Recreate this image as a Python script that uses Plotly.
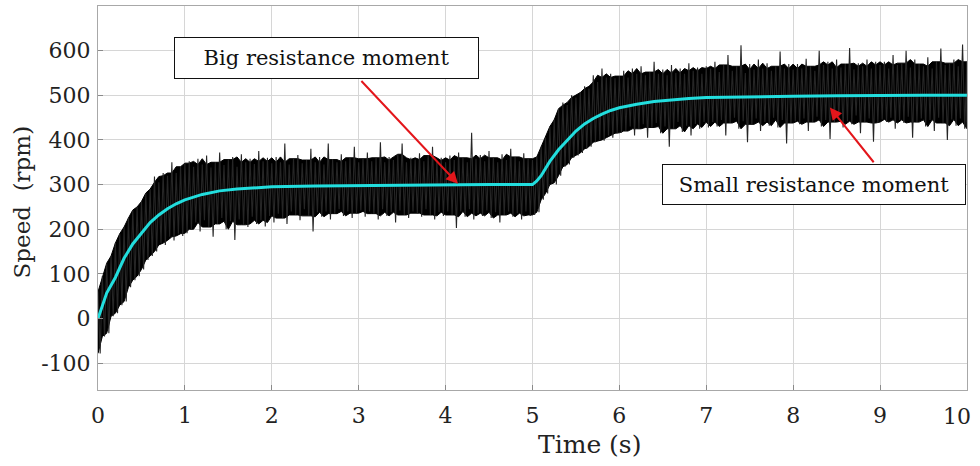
import numpy as np
import plotly.graph_objects as go

# ---------------- data ----------------
# noisy measured speed: upper / lower envelope every 0.05 s (0 .. 10 s)
noise_t = [round(i * 0.05, 2) for i in range(201)]

noise_hi = [
    # 0.00 - 1.00
    60, 95, 124, 140, 169, 190, 205, 225, 243, 250, 262, 281, 290, 318, 305, 326, 320, 350, 326, 340, 348,
    # 1.05 - 2.00
    352, 340, 358, 345, 365, 338, 350, 372, 344, 356, 362, 340, 368, 350, 358, 346, 375, 352, 360, 348,
    # 2.05 - 3.00
    362, 350, 392, 345, 358, 366, 348, 355, 380, 350, 362, 345, 392, 356, 350, 368, 352, 360, 385, 350,
    # 3.05 - 4.00
    358, 372, 352, 360, 395, 350, 362, 355, 368, 392, 350, 360, 356, 370, 352, 365, 385, 354, 360, 350,
    # 4.05 - 5.00
    365, 355, 372, 360, 350, 416, 358, 366, 352, 375, 360, 350, 368, 355, 380, 362, 352, 370, 358, 355,
    # 5.05 - 6.00
    362, 385, 405, 430, 445, 470, 484, 478, 500, 495, 506, 520, 515, 545, 530, 560, 540, 548, 538, 543,
    # 6.05 - 7.00
    555, 540, 560, 548, 565, 545, 552, 575, 548, 558, 545, 568, 550, 560, 548, 572, 555, 562, 548, 565,
    # 7.05 - 8.00
    560, 575, 552, 568, 590, 555, 565, 612, 550, 570, 558, 580, 560, 572, 555, 565, 598, 560, 570, 558,
    # 8.05 - 9.00
    570, 560, 582, 565, 555, 600, 568, 575, 560, 580, 562, 570, 606, 558, 572, 565, 580, 560, 575, 568,
    # 9.05 - 10.00
    575, 560, 590, 568, 572, 600, 562, 580, 570, 565, 585, 560, 575, 605, 568, 572, 580, 565, 614, 575,
]

noise_lo = [
    # 0.00 - 1.00
    -78, -40, -33, 5, 12, 30, 38, 70, 86, 95, 110, 131, 140, 150, 169, 165, 183, 175, 190, 185, 191,
    # 1.05 - 2.00
    200, 215, 195, 220, 205, 183, 212, 225, 200, 218, 176, 222, 210, 205, 228, 212, 220, 206, 230, 215,
    # 2.05 - 3.00
    235, 225, 212, 240, 232, 220, 245, 230, 195, 238, 228, 240, 222, 235, 245, 230, 240, 225, 236, 242,
    # 3.05 - 4.00
    228, 240, 235, 222, 245, 230, 238, 215, 242, 232, 225, 240, 236, 228, 245, 232, 222, 238, 230, 240,
    # 4.05 - 5.00
    232, 203, 240, 228, 245, 222, 236, 230, 242, 225, 238, 215, 232, 240, 228, 236, 222, 240, 230, 232,
    # 5.05 - 6.00
    238, 266, 280, 304, 300, 320, 340, 345, 360, 365, 371, 380, 385, 395, 400, 398, 410, 405, 415, 416,
    # 6.05 - 7.00
    420, 430, 410, 425, 435, 405, 428, 438, 415, 430, 385, 425, 440, 418, 432, 410, 436, 425, 440, 428,
    # 7.05 - 8.00
    440, 430, 445, 410, 438, 450, 425, 442, 395, 435, 448, 420, 440, 432, 450, 428, 445, 392, 438, 442,
    # 8.05 - 9.00
    435, 448, 420, 440, 452, 430, 445, 402, 440, 450, 428, 442, 435, 455, 415, 440, 448, 396, 438, 446,
    # 9.05 - 10.00
    440, 450, 425, 445, 438, 452, 405, 440, 448, 430, 445, 420, 450, 438, 400, 446, 432, 448, 425, 440,
]

# filtered (mean) speed, cyan curve
mean_t = [0, 0.1, 0.2, 0.3, 0.4, 0.5, 0.6, 0.7, 0.8, 0.9, 1.0, 1.2, 1.4, 1.6, 1.8, 2.0, 2.5, 3.0,
          3.5, 4.0, 4.5, 5.0, 5.05, 5.1, 5.2, 5.3, 5.4, 5.5, 5.6, 5.7, 5.8, 5.9, 6.0, 6.2, 6.4,
          6.6, 6.8, 7.0, 7.5, 8.0, 8.5, 9.0, 9.5, 10.0]
mean_v = [0, 57, 92, 135, 167, 192, 215, 232, 246, 257, 266, 278, 286, 290, 293, 295, 297, 298,
          299, 300, 300, 300, 308, 320, 352, 378, 400, 420, 436, 448, 458, 466, 472, 480, 486,
          490, 493, 495, 497, 498, 499, 500, 500, 500]

x_ticks = [0, 1, 2, 3, 4, 5, 6, 7, 8, 9, 10]
x_ticklabels = ["0", "1", "2", "3", "4", "5", "6", "7", "8", "9", "10"]
y_ticks = [-100, 0, 100, 200, 300, 400, 500, 600]
y_ticklabels = ["-100", "0", "100", "200", "300", "400", "500", "600"]

label_big = "Big resistance moment"
label_small = "Small resistance moment"

# ---------------- derived drawing geometry ----------------
n = len(noise_t)


def _median3(vals, i):
    win = sorted(vals[max(0, i - 1):i + 2])
    return win[(len(win) - 1) // 2]


# dense core: neighbourhood median of the envelope (the tallest spikes poke out of it)
core_hi = [_median3(noise_hi, i) for i in range(n)]
core_lo = [_median3(noise_lo, i) for i in range(n)]
# zig-zag trace through the read envelope points: gives the thin spikes
half = 0.025
zz_x, zz_y = [], []
for i in range(n):
    zz_x += [noise_t[i], min(noise_t[i] + half, 10.0)]
    zz_y += [noise_hi[i], noise_lo[i]]

# last x tick label is drawn separately (nudged left to stay inside the page, as in the original)
x_ticktext = x_ticklabels[:-1] + [""]

# ---------------- figure ----------------
FONT = "DejaVu Serif"
fig = go.Figure()

fig.add_trace(go.Scatter(x=noise_t, y=core_hi, mode="lines",
                         line=dict(color="#000000", width=1), hoverinfo="skip"))
fig.add_trace(go.Scatter(x=noise_t, y=core_lo, mode="lines", fill="tonexty",
                         fillcolor="#000000",
                         line=dict(color="#000000", width=1), hoverinfo="skip"))
fig.add_trace(go.Scatter(x=zz_x, y=zz_y, mode="lines",
                         line=dict(color="#262626", width=1.1), hoverinfo="skip"))
fig.add_trace(go.Scatter(x=mean_t, y=mean_v, mode="lines",
                         line=dict(color="#22dede", width=3)))

axis_common = dict(
    showgrid=True, gridcolor="#d6d6d6", gridwidth=1,
    showline=True, linecolor="#a8a8a8", linewidth=1, mirror=True,
    ticks="inside", ticklen=5, tickcolor="#8a8a8a",
    zeroline=False, automargin=False,
    tickfont=dict(family=FONT, size=22, color="#222"),
)

fig.update_layout(
    width=980, height=466,
    margin=dict(l=98, r=13, t=6, b=76, autoexpand=False),
    paper_bgcolor="white", plot_bgcolor="white",
    showlegend=False,
    font=dict(family=FONT, color="#222"),
    xaxis=dict(range=[0, 10.001], tickvals=x_ticks, ticktext=x_ticktext,
               ticklabelstandoff=6, **axis_common),
    yaxis=dict(range=[-160, 700], tickvals=y_ticks, ticktext=y_ticklabels,
               ticklabelstandoff=2, **axis_common),
)

anns = [
    # last x tick label
    dict(text=x_ticklabels[-1], xref="paper", yref="paper", x=1.0, y=-0.03,
         xanchor="right", yanchor="top", xshift=6, showarrow=False,
         font=dict(family=FONT, size=22, color="#222")),
    # axis titles
    dict(text="Time (s)", xref="paper", yref="paper", x=0.566, y=-0.143,
         xanchor="center", yanchor="middle", showarrow=False,
         font=dict(family=FONT, size=25, color="#222")),
    dict(text="Speed\u00a0 (rpm)", xref="paper", yref="paper", x=-0.0875, y=0.491,
         xanchor="center", yanchor="middle", showarrow=False, textangle=-90,
         font=dict(family=FONT, size=23, color="#222")),
    # arrows
    dict(x=4.143, y=301.8, ax=3.015, ay=535.5, xref="x", yref="y", axref="x", ayref="y",
         text="", showarrow=True, arrowhead=2, arrowsize=1.2, arrowwidth=2, arrowcolor="#e3161b"),
    dict(x=8.423, y=472.6, ax=8.941, ay=346.7, xref="x", yref="y", axref="x", ayref="y",
         text="", showarrow=True, arrowhead=2, arrowsize=1.2, arrowwidth=2, arrowcolor="#e3161b"),
    # label boxes
    dict(text=label_big, x=2.629, y=582.7, xref="x", yref="y", showarrow=False,
         xanchor="center", yanchor="middle", width=303, height=40, borderpad=0,
         bordercolor="#111", borderwidth=1, bgcolor="white",
         font=dict(family=FONT, size=21, color="#111")),
    dict(text=label_small, x=8.24, y=300.7, xref="x", yref="y", showarrow=False,
         xanchor="center", yanchor="middle", width=302, height=39, borderpad=0,
         bordercolor="#111", borderwidth=1, bgcolor="white",
         font=dict(family=FONT, size=21, color="#111")),
]
fig.update_layout(annotations=anns)

fig.write_html("out.html")
